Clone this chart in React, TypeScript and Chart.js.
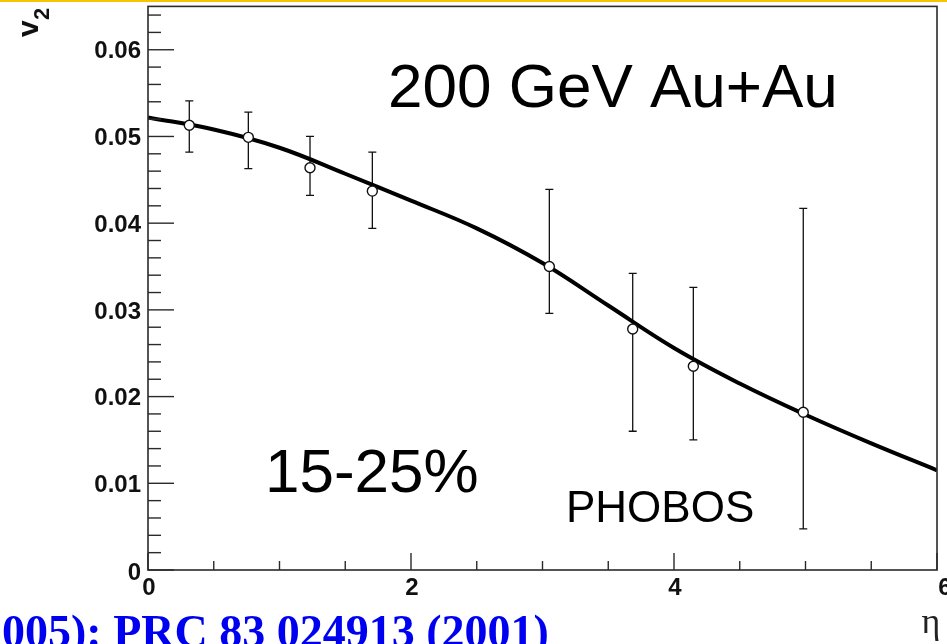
import React, { useEffect, useRef } from 'react';
import { Chart, registerables } from 'chart.js';

Chart.register(...registerables);

// ---- data ----
const pointEta = [0.314, 0.763, 1.232, 1.706, 3.052, 3.686, 4.147, 4.983];
const pointV2 = [0.0513, 0.0499, 0.0464, 0.0437, 0.035, 0.0278, 0.0235, 0.0182];
const errHigh = [0.0541, 0.0528, 0.05, 0.0482, 0.0439, 0.0342, 0.0326, 0.0417];
const errLow = [0.0482, 0.0463, 0.0432, 0.0394, 0.0296, 0.016, 0.015, 0.00475];

const curveEta = [0, 0.5, 1, 1.5, 2, 2.5, 3, 3.5, 4, 4.5, 5, 5.5, 6];
const curveV2 = [0.0522, 0.0508, 0.0487, 0.0457, 0.0426, 0.0394, 0.0354, 0.0305, 0.0256, 0.0215, 0.0179, 0.0146, 0.0115];

const yTickValues = [0, 0.01, 0.02, 0.03, 0.04, 0.05, 0.06];
const yTickLabels = ['0', '0.01', '0.02', '0.03', '0.04', '0.05', '0.06'];
const xTickValues = [0, 2, 4, 6];
const xTickLabels = ['0', '2', '4', '6'];

const titleText = '200 GeV Au+Au';
const centralityText = '15-25%';
const experimentText = 'PHOBOS';
const referenceText = '005): PRC 83 024913 (2001)';

const W = 947;
const H = 644;
const SANS = '"Liberation Sans", Arial, sans-serif';
const SERIF = '"Liberation Serif", "Times New Roman", serif';

const rootPlugin = {
  id: 'rootStyle',
  beforeDatasetsDraw(chart: any) {
    const ctx = chart.ctx;
    const xs = chart.scales.x;
    const ys = chart.scales.y;
    ctx.save();
    ctx.strokeStyle = '#111';
    ctx.lineWidth = 1.3;
    for (let i = 0; i < pointEta.length; i++) {
      const px = xs.getPixelForValue(pointEta[i]);
      const top = ys.getPixelForValue(errHigh[i]);
      const bot = ys.getPixelForValue(errLow[i]);
      ctx.beginPath();
      ctx.moveTo(px, top);
      ctx.lineTo(px, bot);
      ctx.moveTo(px - 4, top);
      ctx.lineTo(px + 4, top);
      ctx.moveTo(px - 4, bot);
      ctx.lineTo(px + 4, bot);
      ctx.stroke();
    }
    ctx.restore();
  },
  afterDraw(chart: any) {
    const ctx = chart.ctx;
    const xs = chart.scales.x;
    const ys = chart.scales.y;
    const a = chart.chartArea;
    ctx.save();
    // top yellow band
    ctx.fillStyle = '#f6c400';
    ctx.fillRect(0, 0, W, 2);

    // frame
    ctx.strokeStyle = '#2a2a2a';
    ctx.lineWidth = 1.6;
    ctx.strokeRect(a.left, a.top, a.right - a.left, a.bottom - a.top);

    // y ticks (inward)
    ctx.lineWidth = 1.4;
    const yMax = ys.max;
    for (let k = 0; k * 0.002 <= yMax + 1e-9; k++) {
      const v = k * 0.002;
      const py = ys.getPixelForValue(v);
      const len = k % 5 === 0 ? 26 : 13;
      ctx.beginPath();
      ctx.moveTo(a.left, py);
      ctx.lineTo(a.left + len, py);
      ctx.stroke();
    }
    // x ticks (inward)
    for (let k = 0; k * 0.5 <= xs.max + 1e-9; k++) {
      const v = k * 0.5;
      const px = xs.getPixelForValue(v);
      const len = k % 4 === 0 ? 17 : 9;
      ctx.beginPath();
      ctx.moveTo(px, a.bottom);
      ctx.lineTo(px, a.bottom - len);
      ctx.stroke();
    }

    // tick labels
    ctx.fillStyle = '#111';
    ctx.font = `bold 24px ${SANS}`;
    ctx.textAlign = 'right';
    ctx.textBaseline = 'middle';
    yTickValues.forEach((v, i) => {
      const py = ys.getPixelForValue(v);
      ctx.fillText(yTickLabels[i], a.left - 7, py + (v === 0 ? 3 : 2));
    });
    ctx.textAlign = 'center';
    ctx.textBaseline = 'top';
    xTickValues.forEach((v, i) => {
      const px = xs.getPixelForValue(v);
      let dx = 1;
      if (i === xTickValues.length - 1) dx = 8;
      ctx.fillText(xTickLabels[i], px + dx, a.bottom + 6);
    });

    // axis titles
    ctx.font = `36px ${SERIF}`;
    ctx.textAlign = 'center';
    ctx.textBaseline = 'alphabetic';
    ctx.fillStyle = '#222';
    ctx.fillText('η', 931, 633);

    ctx.save();
    ctx.translate(38, 37);
    ctx.rotate(-Math.PI / 2);
    ctx.textAlign = 'left';
    ctx.fillStyle = '#111';
    ctx.font = `bold 30px ${SANS}`;
    ctx.fillText('v', 0, 0);
    ctx.font = `bold 22px ${SANS}`;
    ctx.fillText('2', 17, 11);
    ctx.restore();

    // annotations
    ctx.fillStyle = '#000';
    ctx.textAlign = 'left';
    ctx.textBaseline = 'alphabetic';
    ctx.font = `62px ${SANS}`;
    ctx.fillText(titleText, 388, 107);
    ctx.fillText(centralityText, 265, 492);
    ctx.font = `44px ${SANS}`;
    ctx.fillText(experimentText, 566, 522);

    // reference line (cut off)
    ctx.fillStyle = '#0000f0';
    ctx.font = `bold 46px ${SERIF}`;
    ctx.fillText(referenceText, 2, 647);
    ctx.restore();
  },
};

export default function App() {
  const ref = useRef<HTMLCanvasElement | null>(null);
  useEffect(() => {
    if (!ref.current) return;
    const chart = new Chart(ref.current, {
      type: 'scatter',
      data: {
        datasets: [
          {
            label: 'fit',
            data: curveEta.map((x, i) => ({ x, y: curveV2[i] })),
            showLine: true,
            borderColor: '#000',
            borderWidth: 4,
            pointRadius: 0,
            tension: 0.4,
            order: 2,
          } as any,
          {
            label: 'PHOBOS',
            data: pointEta.map((x, i) => ({ x, y: pointV2[i] })),
            showLine: false,
            pointStyle: 'circle',
            pointRadius: 5,
            pointBorderWidth: 1.4,
            pointBorderColor: '#111',
            pointBackgroundColor: '#fff',
            order: 1,
          } as any,
        ],
      },
      options: {
        responsive: false,
        animation: false,
        devicePixelRatio: 1,
        layout: { padding: { left: 148, top: 5, right: 10, bottom: 74 } },
        plugins: { legend: { display: false }, tooltip: { enabled: false } },
        scales: {
          x: { type: 'linear', min: 0, max: 6, display: false },
          y: { type: 'linear', min: 0, max: 0.065, display: false },
        },
      },
      plugins: [rootPlugin],
    });
    return () => chart.destroy();
  }, []);
  return (
    <div style={{ position: 'fixed', left: 0, top: 0, width: W, height: H, background: '#fff' }}>
      <canvas ref={ref} width={W} height={H} style={{ width: W, height: H, display: 'block' }} />
    </div>
  );
}
